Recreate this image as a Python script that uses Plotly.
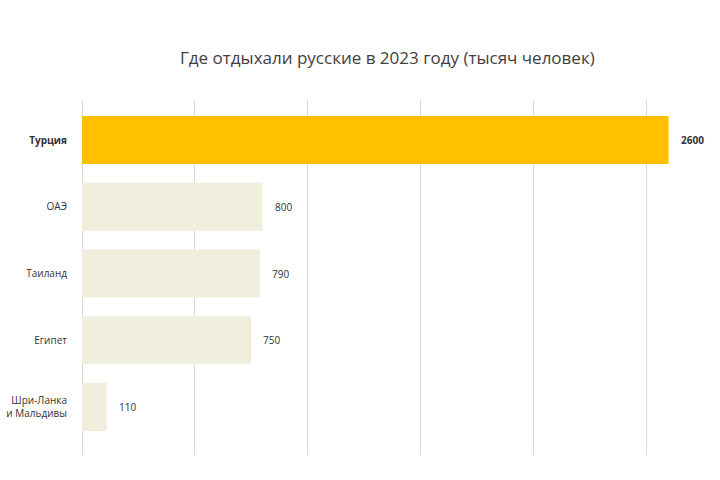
import plotly.graph_objects as go

categories = ["Турция", "ОАЭ", "Таиланд", "Египет", "Шри-Ланка<br>и Мальдивы"]
values = [2600, 800, 790, 750, 110]
tick_labels = ["<b>Турция</b>", "ОАЭ", "Таиланд", "Египет", "Шри-Ланка<br>и Мальдивы"]
value_labels = ["<b>2600</b>", "800", "790", "750", "110"]
colors = ["#FFC000", "#F0EFDE", "#F0EFDE", "#F0EFDE", "#F0EFDE"]

fig = go.Figure()
fig.add_trace(go.Bar(
    x=values, y=categories, orientation="h",
    marker=dict(color=colors, line=dict(width=0)),
    width=0.72, hoverinfo="skip",
))

for c, v, t in zip(categories, values, value_labels):
    fig.add_annotation(x=v, y=c, text=t, showarrow=False, xanchor="left",
                       xshift=10, font=dict(size=10, color="#333333"))

fig.update_layout(
    width=720, height=480,
    margin=dict(l=82, r=20, t=100, b=25, autoexpand=False),
    paper_bgcolor="white", plot_bgcolor="white",
    font=dict(family="Open Sans, Noto Sans, sans-serif", color="#333333"),
    title=dict(text="Где отдыхали русские в 2023 году (тысяч человек)",
               x=0.538, xanchor="center", y=0.88, yanchor="middle",
               font=dict(size=17, color="#404040")),
    showlegend=False,
    hovermode=False,
)
fig.update_xaxes(range=[0, 2739], showticklabels=False, showgrid=True,
                 gridcolor="#D9D9D9", gridwidth=1, dtick=500, tick0=0,
                 zeroline=True, zerolinecolor="#D9D9D9", zerolinewidth=1,
                 showline=False, fixedrange=True, automargin=False)
fig.update_yaxes(categoryorder="array", categoryarray=categories,
                 range=[4.72, -0.6], tickmode="array", tickvals=categories,
                 ticktext=tick_labels, tickfont=dict(size=10, color="#333333"),
                 ticks="", ticklabelstandoff=14, showgrid=False, zeroline=False,
                 showline=False, fixedrange=True, automargin=False)

fig.write_html("out.html", config={"displayModeBar": False},
               post_script="document.body.style.margin='0';")
